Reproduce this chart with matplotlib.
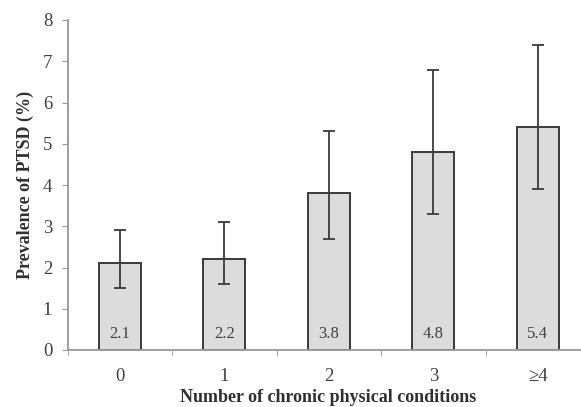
import matplotlib
matplotlib.use("Agg")
import matplotlib.pyplot as plt
import numpy as np

categories = ["0", "1", "2", "3", "\u22654"]
prevalence = [2.1, 2.2, 3.8, 4.8, 5.4]
ci_low = [1.5, 1.6, 2.7, 3.3, 3.9]
ci_high = [2.9, 3.1, 5.3, 6.8, 7.4]

plt.rcParams["font.family"] = ["Liberation Serif", "DejaVu Serif"]

fig = plt.figure(figsize=(5.81, 4.07), dpi=100)
ax = fig.add_axes([67.5 / 581, 57 / 407, (590 - 67.5) / 581, 330 / 407])

x = np.arange(len(categories))
vals = np.array(prevalence)
yerr = np.vstack([vals - np.array(ci_low), np.array(ci_high) - vals])

ax.bar(x, vals, width=0.4, color="#dcdcdc", edgecolor="#3a3a3a", linewidth=1.4, zorder=2)
ax.errorbar(x, vals, yerr=yerr, fmt="none", ecolor="#3a3a3a", elinewidth=1.3,
            capsize=4, capthick=1.3, zorder=3)

for xi, v in zip(x, prevalence):
    ax.text(xi, 0.4, f"{v:.1f}", ha="center", va="center", fontsize=12, color="#404040")

ax.set_xlim(-0.5, 4.5)
ax.set_ylim(0, 8)
ax.set_yticks(range(0, 9))
ax.set_xticks(x)
ax.set_xticklabels(categories)
ax.set_xticks(np.arange(-0.5, 5.0, 1.0), minor=True)
ax.tick_params(axis="x", which="major", length=0, pad=13, labelsize=13.5, labelcolor="#404040")
ax.tick_params(axis="x", which="minor", length=4, color="#999999", direction="out")
ax.tick_params(axis="y", length=4, color="#999999", labelsize=13.5, labelcolor="#404040", pad=7)

for side in ["top", "right"]:
    ax.spines[side].set_visible(False)
for side in ["left", "bottom"]:
    ax.spines[side].set_color("#999999")
    ax.spines[side].set_linewidth(1.3)

ax.set_xlabel("Number of chronic physical conditions", fontsize=13, fontweight="bold",
              color="#303030")
ax.set_ylabel("Prevalence of PTSD (%)", fontsize=13, fontweight="bold", color="#303030")
ax.xaxis.set_label_coords((328 - 67.5) / 522.5, -0.118)
ax.yaxis.set_label_coords((34 - 67.5) / 522.5, 0.5)

fig.savefig("out.png", dpi=100)
